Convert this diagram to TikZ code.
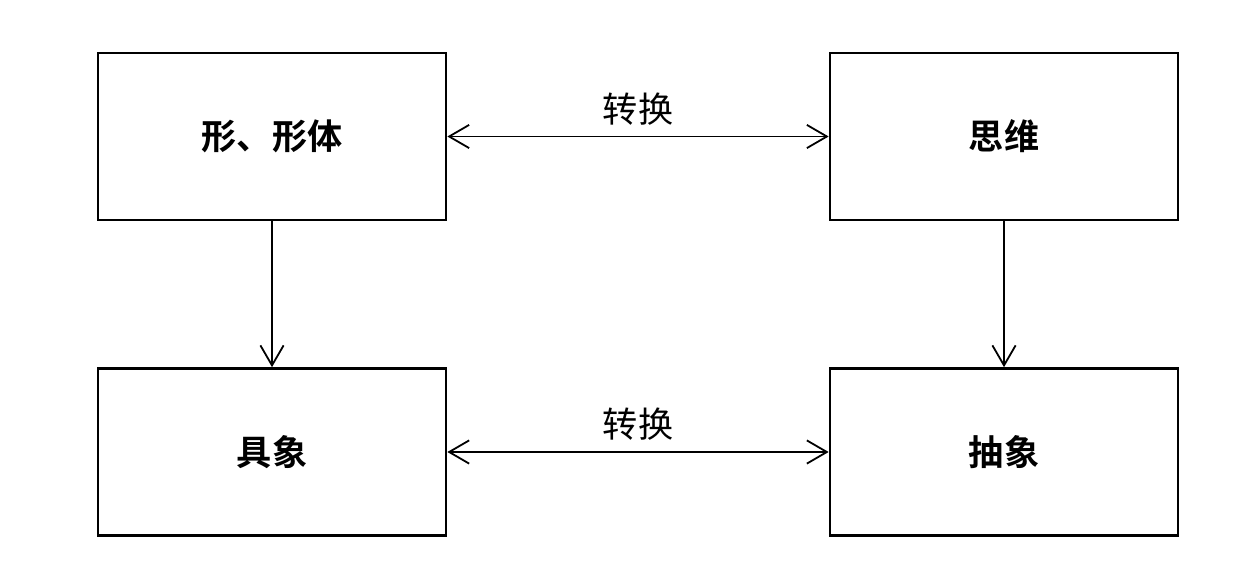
\documentclass[tikz,border=0pt]{standalone}
\usepackage{fontspec}
\usepackage{tikz}
\usetikzlibrary{arrows.meta}
\newfontfamily\cjk{Noto Sans CJK SC}[BoldFont={Noto Sans CJK SC Bold}]

\begin{document}
\begin{tikzpicture}[x=0.025cm, y=-0.025cm]
		\tikzstyle{every node}=[font=\cjk\fontsize{25}{30}\selectfont]
		\tikzstyle{box}=[draw, line width=0.065cm, minimum width=8.7cm, minimum height=4.175cm, font=\cjk\bfseries\fontsize{25}{30}\selectfont]
		\tikzstyle{link}=[line width=0.045cm, {Straight Barb[length=0.5cm, width=0.58cm, line width=0.045cm]}-{Straight Barb[length=0.5cm, width=0.58cm, line width=0.045cm]}]
		\tikzstyle{down}=[line width=0.045cm, -{Straight Barb[length=0.5cm, width=0.58cm, line width=0.045cm]}]
		\useasboundingbox (0,0) rectangle (1253,583);
		\node[box] (xing) at (272,136.5) {形、形体};
		\node[box] (siwei) at (1004,136.5) {思维};
		\node[box] (juxiang) at (272,452) {具象};
		\node[box] (chouxiang) at (1004,452) {抽象};
		\draw[link] (xing) -- node[above=4pt] {转换} (siwei);
		\draw[link] (juxiang) -- node[above=4pt] {转换} (chouxiang);
		\draw[down] (xing) -- (juxiang);
		\draw[down] (siwei) -- (chouxiang);
	\end{tikzpicture}
\end{document}
